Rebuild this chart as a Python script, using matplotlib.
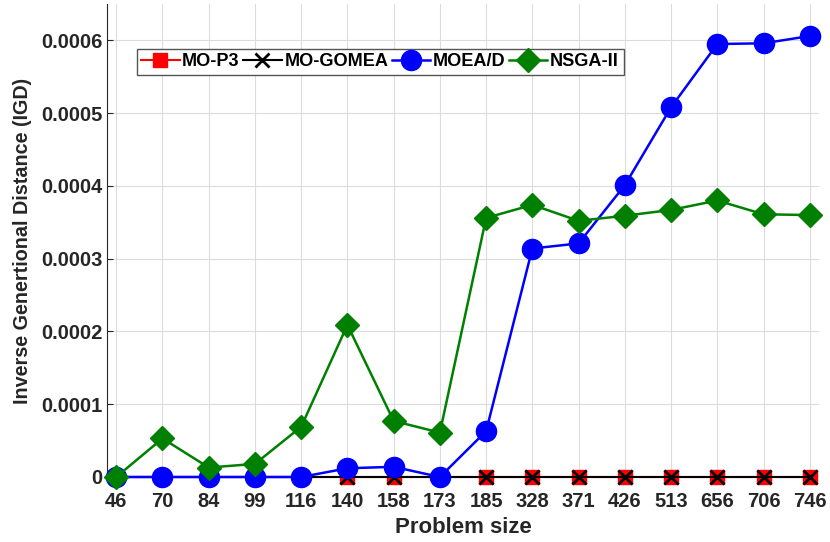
import matplotlib

matplotlib.use("Agg")
import matplotlib.pyplot as plt
import numpy as np

plt.rcParams["font.family"] = ["Liberation Sans", "DejaVu Sans"]
plt.rcParams["font.weight"] = "bold"

# tamanos del problema (eje x categorico)
sizes = ["46", "70", "84", "99", "116", "140", "158", "173",
         "185", "328", "371", "426", "513", "656", "706", "746"]

mo_p3 = [0.0] * 16
mo_gomea = [0.0] * 16
moead = [0.0, 0.0, 0.0, 0.0, 0.0, 0.000012, 0.000014, 0.0,
         0.000063, 0.000314, 0.000321, 0.000401, 0.000508, 0.000595, 0.000596, 0.000606]
nsga2 = [0.0, 0.000053, 0.000013, 0.000018, 0.000069, 0.000209, 0.000077, 0.000061,
         0.000356, 0.000374, 0.000352, 0.000359, 0.000367, 0.000380, 0.000361, 0.000360]

x = np.arange(len(sizes))
grey = "#262626"

fig = plt.figure(figsize=(8.3, 5.42), dpi=100)
ax = fig.add_axes([107 / 830, 1 - 477 / 542, 712 / 830, 473 / 542])

ax.plot(x, mo_p3, color="red", marker="s", markersize=10.5, linewidth=1.5,
        label="MO-P3", zorder=3, clip_on=False)
ax.plot(x, mo_gomea, color="black", marker="x", markersize=10, markeredgewidth=2,
        linewidth=1.5, label="MO-GOMEA", zorder=4, clip_on=False)
ax.plot(x, moead, color="blue", marker="o", markersize=14.5, linewidth=1.8,
        label="MOEA/D", zorder=5, clip_on=False)
ax.plot(x, nsga2, color="green", marker="D", markersize=12.5, linewidth=1.8,
        label="NSGA-II", zorder=6, clip_on=False)

ax.set_xlim(-0.2, 15.2)
ax.set_ylim(0, 0.00065)
ax.set_xticks(x)
ax.set_xticklabels(sizes)
ax.set_yticks([0, 0.0001, 0.0002, 0.0003, 0.0004, 0.0005, 0.0006])
ax.set_yticklabels(["0", "0.0001", "0.0002", "0.0003", "0.0004", "0.0005", "0.0006"])
ax.tick_params(labelsize=14.5, colors=grey, length=4, direction="in")
ax.tick_params(axis="x", pad=11, length=0)
for lab in ax.get_xticklabels() + ax.get_yticklabels():
    lab.set_fontweight("bold")

ax.grid(True, color="#dcdcdc", linewidth=0.8)
ax.set_axisbelow(True)
ax.spines["top"].set_visible(False)
ax.spines["right"].set_visible(False)
ax.spines["bottom"].set_visible(False)
ax.spines["left"].set_color(grey)

ax.set_xlabel("Problem size", fontsize=16, fontweight="bold", color=grey, labelpad=4)
ax.set_ylabel("Inverse Genertional Distance (IGD)", fontsize=14.2, fontweight="bold",
              color=grey, labelpad=6)

leg = ax.legend(loc="upper left", bbox_to_anchor=(0.029, 0.925), ncol=4, fontsize=13.1,
                frameon=True, fancybox=False, edgecolor="#555555", handlelength=2.1,
                handletextpad=0.15, columnspacing=0.2, borderpad=0.25, framealpha=1)
leg.get_frame().set_linewidth(1.0)
for t in leg.get_texts():
    t.set_fontweight("bold")

fig.savefig("out.png", dpi=100)
